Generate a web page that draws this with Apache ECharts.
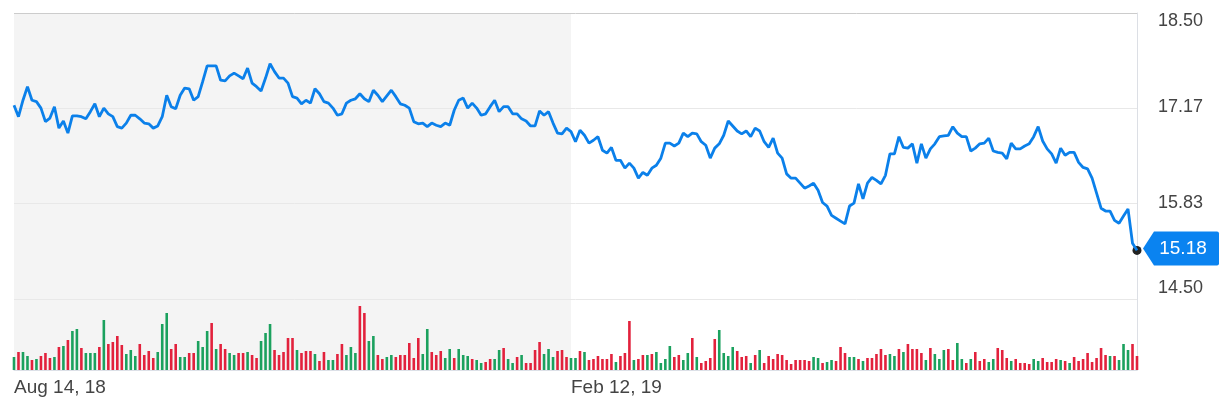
<!DOCTYPE html>
<html><head><meta charset="utf-8">
<script src="https://cdn.jsdelivr.net/npm/echarts@6/dist/echarts.min.js"></script>
<style>html,body{margin:0;padding:0;background:#fff}#c{width:1232px;height:412px}</style>
</head><body><div id="c"></div>
<script>
// Daily closing price
const prices = [
17.21,17.05,17.28,17.47,17.28,17.26,17.17,16.98,17.03,17.19,
16.89,16.99,16.82,17.06,17.06,17.05,17.02,17.12,17.23,17.05,
17.17,17.09,17.05,16.91,16.89,16.96,17.07,17.07,17.02,16.96,
16.95,16.89,16.92,17.05,17.35,17.19,17.16,17.35,17.45,17.44,
17.28,17.33,17.54,17.76,17.76,17.76,17.56,17.55,17.62,17.66,
17.62,17.58,17.73,17.52,17.47,17.41,17.59,17.79,17.68,17.59,
17.59,17.52,17.33,17.31,17.23,17.28,17.24,17.44,17.37,17.26,
17.24,17.17,17.07,17.09,17.24,17.28,17.30,17.37,17.30,17.26,
17.42,17.35,17.26,17.34,17.42,17.33,17.23,17.21,17.17,16.98,
16.95,16.96,16.91,16.96,16.93,16.91,16.96,16.93,17.14,17.28,
17.31,17.17,17.24,17.17,17.07,17.09,17.19,17.28,17.12,17.19,
17.19,17.09,17.09,17.02,16.99,16.92,16.92,17.13,17.07,17.12,
16.96,16.82,16.81,16.89,16.84,16.70,16.86,16.79,16.68,16.72,
16.77,16.58,16.54,16.62,16.44,16.44,16.33,16.40,16.33,16.19,
16.27,16.23,16.33,16.37,16.47,16.68,16.68,16.64,16.68,16.82,
16.77,16.82,16.81,16.70,16.65,16.47,16.61,16.67,16.79,16.99,
16.92,16.85,16.81,16.85,16.77,16.89,16.85,16.70,16.62,16.75,
16.54,16.47,16.25,16.19,16.19,
16.12,16.05,16.08,16.12,16.02,15.85,15.80,15.67,15.63,15.59,
15.55,15.80,15.84,16.11,15.90,16.12,16.20,16.16,16.11,16.23,
16.53,16.53,16.77,16.62,16.61,16.67,16.40,16.67,16.47,16.60,
16.67,16.77,16.78,16.79,16.91,16.82,16.77,16.77,16.57,16.61,
16.67,16.68,16.75,16.57,16.55,16.54,16.46,16.68,16.60,16.60,
16.64,16.67,16.77,16.91,16.71,16.60,16.53,16.40,16.61,16.51,
16.55,16.55,16.41,16.34,16.32,16.19,15.98,15.77,15.73,15.73,
15.60,15.56,15.66,15.76,15.28,15.18
];
// Daily volume (relative units)
const volume = [
13,18,18,14,10,11,14,17,12,13,
23,24,30,39,41,22,17,17,17,23,
50,26,28,34,25,16,20,14,26,15,
19,12,18,46,57,21,26,13,13,17,
17,29,23,39,47,21,26,21,17,15,
17,17,18,15,12,29,37,46,20,15,
18,32,32,20,17,19,19,16,9,18,
10,10,16,26,15,23,17,64,57,29,
34,15,11,13,15,13,15,15,27,12,
32,16,41,18,15,19,12,21,12,21,
15,14,11,10,7,8,11,11,20,22,
11,7,13,15,7,7,20,28,16,21,
13,19,20,13,12,12,19,18,10,11,
14,11,11,16,8,14,17,49,10,11,
15,15,16,18,7,11,24,13,15,10,
17,32,13,7,9,12,31,40,17,14,
23,19,13,14,7,15,20,7,14,11,
16,15,10,6,10,10,10,9,13,12,
7,8,10,9,23,17,13,13,11,9,
12,12,16,21,15,16,14,21,18,26,
21,21,17,10,22,16,11,20,21,10,
27,11,7,11,18,9,11,8,11,22,
20,12,9,11,7,7,6,11,9,12,
8,8,11,10,9,7,13,9,11,17,
8,12,22,15,14,14,10,26,20,26,14
];
// 1 = up day (green), 0 = down day (red)
const volUp = [
1,0,1,1,0,1,0,0,0,1,
0,1,0,1,1,0,1,1,1,0,
1,0,0,0,0,1,1,1,0,0,
0,0,1,1,1,0,0,1,1,0,
0,1,1,1,0,1,0,0,1,1,
0,0,1,0,0,1,1,1,0,0,
0,0,0,1,0,0,0,1,0,0,
1,1,0,0,1,1,1,0,0,1,
1,0,0,1,1,0,0,0,0,0,
0,1,1,0,0,0,1,1,0,1,
1,1,0,1,1,0,0,1,1,0,
1,1,0,1,0,0,0,0,1,1,
1,0,0,0,1,1,0,1,0,0,
0,0,0,0,1,0,0,0,1,0,
0,1,0,1,1,1,1,0,0,1,
1,0,1,0,0,0,0,1,1,1,
1,0,0,0,1,0,1,0,0,0,
0,0,0,0,0,0,0,0,1,1,
0,1,1,0,0,0,1,1,0,1,
0,0,0,0,0,1,1,0,1,0,
0,0,0,1,0,1,1,1,0,0,
1,1,0,1,0,0,0,1,1,0,
0,0,1,0,0,0,0,1,1,0,
0,0,0,1,0,1,0,0,0,0,
0,0,0,0,1,0,1,1,1,0,0
];
const xTickIndex = [0, 124];
const xTickText = ['Aug 14, 18', 'Feb 12, 19'];
const priceMin = 14.5, priceMax = 18.5, priceStep = 4 / 3;
const shadeEnd = 124;
const lastPrice = 15.18;

const days = prices.map((_, i) => i);
const lastIdx = prices.length - 1;
const FONT = '"Liberation Sans", Arial, Helvetica, sans-serif';
const GREEN = '#1ba15e', RED = '#e2213c', BLUE = '#0b80ea';

const chart = echarts.init(document.getElementById('c'), null, { renderer: 'canvas' });
chart.setOption({
  animation: false,
  backgroundColor: '#ffffff',
  grid: [
    { left: 14, right: 95, top: 13, height: 286 },
    { left: 14, right: 95, top: 299, height: 71 }
  ],
  xAxis: [
    { type: 'category', gridIndex: 0, data: days, boundaryGap: false,
      axisLine: { show: false }, axisTick: { show: false }, axisLabel: { show: false }, splitLine: { show: false } },
    { type: 'category', gridIndex: 1, data: days, boundaryGap: false,
      axisLine: { show: true, lineStyle: { color: '#dce0e7', width: 1 } },
      axisTick: { show: false }, splitLine: { show: false },
      axisLabel: {
        interval: (i) => xTickIndex.includes(i),
        formatter: (v, i) => { const k = xTickIndex.indexOf(Number(v)); return k >= 0 ? xTickText[k] : ''; },
        align: 'left', margin: 8, color: '#444', fontSize: 19, fontFamily: FONT
      } }
  ],
  yAxis: [
    { type: 'value', gridIndex: 0, position: 'right', min: priceMin, max: priceMax, interval: priceStep, z: 3,
      axisLine: { show: true, lineStyle: { color: '#dcdfe5' } }, axisTick: { show: false },
      splitLine: { show: true, lineStyle: { color: ['#e8e8e8', '#e8e8e8', '#e8e8e8', '#cccccc'], width: 1 } },
      axisLabel: {
        margin: 21,
        formatter: (v) => {
          const s = v.toFixed(2);
          if (Math.abs(v - priceMax) < 1e-6) return '{top|' + s + '}';
          if (Math.abs(v - priceMin) < 1e-6) return '{bot|' + s + '}';
          return '{mid|' + s + '}';
        },
        rich: {
          top: { color: '#444', fontSize: 18, fontFamily: FONT, padding: [16, 0, 0, 0] },
          bot: { color: '#444', fontSize: 18, fontFamily: FONT, padding: [0, 0, 22, 0] },
          mid: { color: '#444', fontSize: 18, fontFamily: FONT, padding: [0, 0, 2, 0] }
        }
      } },
    { type: 'value', gridIndex: 1, position: 'right', min: 0, max: 71, z: 3,
      axisLine: { show: true, lineStyle: { color: '#dcdfe5' } }, axisTick: { show: false },
      axisLabel: { show: false }, splitLine: { show: false } }
  ],
  series: [
    { type: 'line', xAxisIndex: 0, yAxisIndex: 0, data: [], z: 1, silent: true,
      markArea: { silent: true, itemStyle: { color: '#f4f4f4' }, data: [[{ xAxis: 0 }, { xAxis: shadeEnd }]] } },
    { type: 'line', xAxisIndex: 1, yAxisIndex: 1, data: [], z: 1, silent: true,
      markArea: { silent: true, itemStyle: { color: '#f4f4f4' }, data: [[{ xAxis: 0 }, { xAxis: shadeEnd }]] } },
    { type: 'bar', xAxisIndex: 1, yAxisIndex: 1, z: 4, barWidth: 2.6,
      data: volume.map((v, i) => ({ value: v, itemStyle: { color: volUp[i] ? GREEN : RED } })) },
    { type: 'line', xAxisIndex: 0, yAxisIndex: 0, z: 5, data: prices, showSymbol: false,
      lineStyle: { color: BLUE, width: 2.8 }, itemStyle: { color: BLUE },
      markPoint: {
        silent: true,
        data: [
          { coord: [lastIdx, lastPrice], symbol: 'path://M0,17 L11,0 L74,0 Q76,0 76,2 L76,32 Q76,34 74,34 L11,34 Z',
            symbolSize: [76, 34], symbolOffset: [44, -2], itemStyle: { color: '#0a83f0' },
            label: { show: true, formatter: lastPrice.toFixed(2), color: '#fff', fontSize: 19, fontFamily: FONT, offset: [2, 0] } },
          { coord: [lastIdx, lastPrice], symbol: 'circle', symbolSize: 9, itemStyle: { color: '#222' }, label: { show: false } }
        ]
      } }
  ]
});
</script></body></html>
